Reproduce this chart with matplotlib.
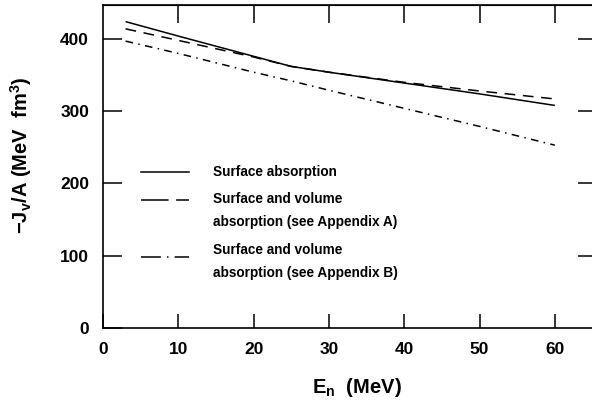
import numpy as np
import matplotlib
matplotlib.use("Agg")
import matplotlib.pyplot as plt

plt.rcParams['font.family'] = ['Liberation Sans', 'DejaVu Sans']
plt.rcParams['font.weight'] = 'bold'
plt.rcParams['axes.labelweight'] = 'bold'
plt.rcParams['mathtext.fontset'] = 'custom'
plt.rcParams['mathtext.rm'] = 'Liberation Sans:bold'
plt.rcParams['mathtext.it'] = 'Liberation Sans:bold'
plt.rcParams['mathtext.bf'] = 'Liberation Sans:bold'

# volume integral per nucleon vs neutron energy
e_n = [3, 10, 20, 25, 30, 40, 50, 60]
surface = [424, 404, 376, 362, 354, 339, 324, 308]
vol_a = [414, 398, 375, 362, 354, 340, 328, 317]
vol_b = [397, 380, 354, 342, 329, 304, 279, 253]

x_ticks = [0, 10, 20, 30, 40, 50, 60]
y_ticks = [0, 100, 200, 300, 400]

legend_lines = [
    ("Surface absorption",),
    ("Surface and volume", "absorption (see Appendix A)"),
    ("Surface and volume", "absorption (see Appendix B)"),
]

fig = plt.figure(figsize=(5.92, 4.08), dpi=100)
ax = fig.add_axes([103 / 592, 80 / 408, 494 / 592, 323 / 408])

lw = 1.1
ax.plot(e_n, surface, color='black', lw=lw, solid_capstyle='butt')
ax.plot(e_n, vol_a, color='black', lw=lw, dashes=(7, 5))
ax.plot(e_n, vol_b, color='black', lw=lw, dashes=(5, 3.5, 1, 3.5))

ax.set_xlim(0, 65.6)
ax.set_ylim(0, 447)
ax.set_xticks(x_ticks)
ax.set_yticks(y_ticks)
ax.tick_params(axis='both', direction='in', width=1.1, labelsize=12.5, pad=10)
ax.tick_params(axis='x', length=10)
ax.tick_params(axis='y', length=14)
for s in ax.spines.values():
    s.set_linewidth(1.2)

top = ax.secondary_xaxis('top')
top.set_xticks(x_ticks[1:])
top.tick_params(direction='in', length=13, width=1.1, labeltop=False)
right = ax.secondary_yaxis('right')
right.set_yticks(y_ticks[1:])
right.tick_params(direction='in', length=14, width=1.1, labelright=False)

ax.set_xlabel(r"E$_\mathrm{n}$  (MeV)", fontsize=14.5)
ax.xaxis.set_label_coords(0.514, -0.148)
ax.set_ylabel(r"$\mathrm{-J_v/A}$ (MeV  fm$^\mathrm{3}$)", fontsize=14.5)
ax.yaxis.set_label_coords(-0.14, 0.535)

# legend drawn by hand so the sample sits on the first text line
styles = [dict(), dict(dashes=(18, 5)), dict(dashes=(13, 4, 1, 4))]
sample_y = [216, 177, 98]
text_y = [[216], [178.5, 147], [108, 76]]
for lines, st, sy, ty in zip(legend_lines, styles, sample_y, text_y):
    ax.plot([5.0, 11.4], [sy, sy], color='black', lw=lw, **st)
    for t, yy in zip(lines, ty):
        ax.text(14.6, yy, t, fontsize=9.8, va='center', ha='left')

fig.savefig("out.png", dpi=100)
